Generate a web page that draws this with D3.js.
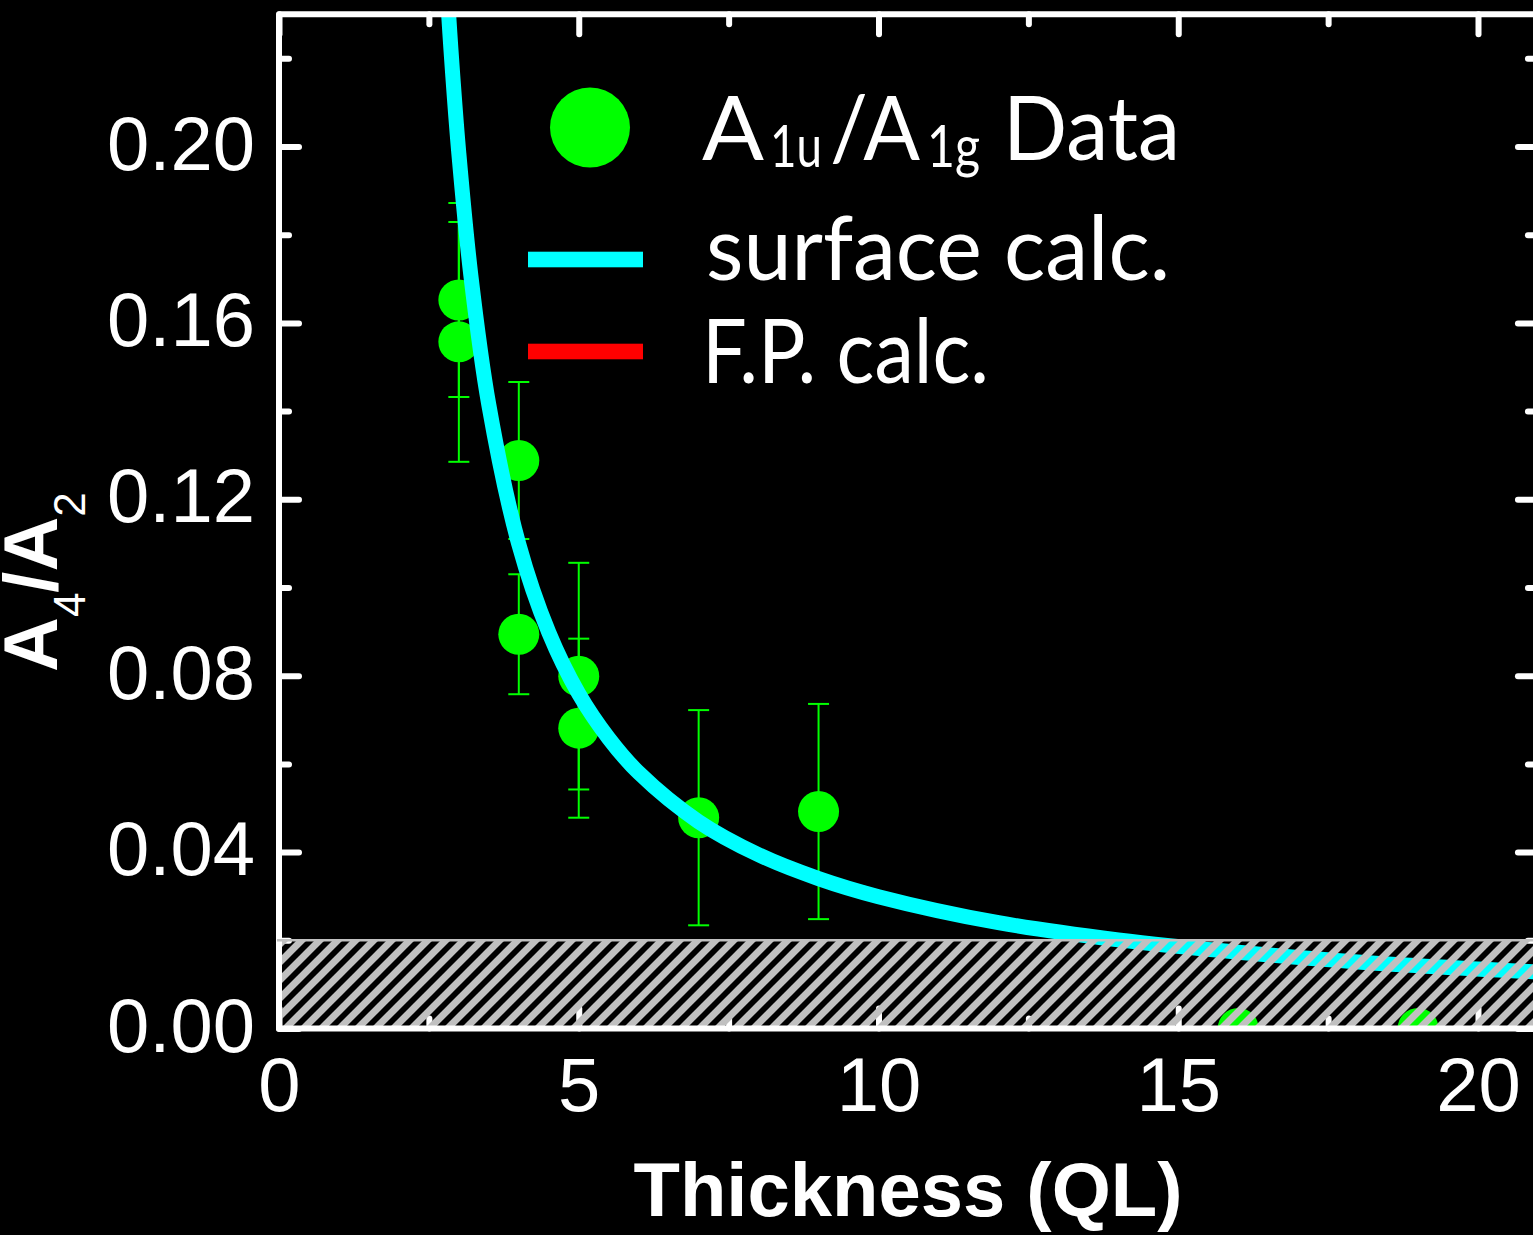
<!DOCTYPE html>
<html><head><meta charset="utf-8">
<script src="https://cdn.jsdelivr.net/npm/d3@7"></script>
<style>html,body{margin:0;padding:0;background:#000;overflow:hidden}</style>
</head><body>
<svg id="c" width="1533" height="1235"></svg>
<script>
// ---- data ----
const dataX   = [3, 3, 4, 4, 5, 5, 7, 9, 16, 19];
const dataY   = [0.1652, 0.1557, 0.1288, 0.0894, 0.0799, 0.0681, 0.0478, 0.0492, 0.0, 0.0];
const dataErr = [0.0220, 0.0272, 0.0178, 0.0136, 0.0257, 0.0203, 0.0244, 0.0244, 0, 0];

const curveX = [2.8, 2.85, 2.9, 3.0, 3.2, 3.5, 4.0, 4.5, 5.0, 5.5, 6.0, 7.0, 8.0, 9.0, 10.0, 12.0, 14.0, 16.0, 18.0, 21.0];
const curveY = [0.2365, 0.2257, 0.2158, 0.1984, 0.1708, 0.1414, 0.1098, 0.0898, 0.0759, 0.0658, 0.0580, 0.0469, 0.0394, 0.0340, 0.0299, 0.0240, 0.0201, 0.0173, 0.0151, 0.0128];

const detectionLimit = 0.02;

const xMajor = [0, 5, 10, 15, 20];
const xMinor = [2.5, 7.5, 12.5, 17.5];
const yMajor = [0, 0.04, 0.08, 0.12, 0.16, 0.20];
const yMinor = [0.02, 0.06, 0.10, 0.14, 0.18, 0.22];

const legendLabels = ["Data", "surface calc.", "F.P. calc."];

// ---- scales ----
const x = d3.scaleLinear().domain([0, 21]).range([279, 279 + 21 * 59.95]);
const y = d3.scaleLinear().domain([0, 0.23]).range([1028.5, 14.2]);

const svg = d3.select("#c");
svg.append("rect").attr("width", 1533).attr("height", 1235).attr("fill", "#000");

const defs = svg.append("defs");
defs.append("clipPath").attr("id", "plot").append("rect")
  .attr("x", x(0)).attr("y", y(0.23))
  .attr("width", x(21) - x(0)).attr("height", y(0) - y(0.23));
const pat = defs.append("pattern").attr("id", "hatch")
  .attr("patternUnits", "userSpaceOnUse").attr("width", 18).attr("height", 18);
pat.append("path").attr("d", "M-4.5,4.5 L4.5,-4.5 M0,18 L18,0 M13.5,22.5 L22.5,13.5")
  .attr("stroke", "#c0c0c0").attr("stroke-width", 7);

// ---- axes (inward ticks) ----
const FONT = "'Liberation Sans', Arial, sans-serif";
function style(g) {
  g.select(".domain").remove();
  g.selectAll(".tick line").attr("stroke", "#fff").attr("stroke-width", 6).attr("stroke-linecap", "round");
  g.selectAll(".tick text").attr("fill", "#fff").attr("font-family", FONT).attr("font-size", 76);
}
const axes = svg.append("g");
// bottom
axes.append("g").attr("transform", `translate(0,${y(0)})`)
  .call(d3.axisBottom(x).tickValues(xMajor).tickSize(-20).tickFormat(d3.format("d")))
  .call(style).call(g => g.selectAll(".tick text").attr("y", 82.5).attr("dy", null));
axes.append("g").attr("transform", `translate(0,${y(0)})`)
  .call(d3.axisBottom(x).tickValues(xMinor).tickSize(-10).tickFormat(() => "")).call(style);
// top
axes.append("g").attr("transform", `translate(0,${y(0.23)})`)
  .call(d3.axisTop(x).tickValues(xMajor).tickSize(-20).tickFormat(() => "")).call(style);
axes.append("g").attr("transform", `translate(0,${y(0.23)})`)
  .call(d3.axisTop(x).tickValues(xMinor).tickSize(-10).tickFormat(() => "")).call(style);
// left
axes.append("g").attr("transform", `translate(${x(0)},0)`)
  .call(d3.axisLeft(y).tickValues(yMajor).tickSize(-20).tickFormat(d3.format(".2f")))
  .call(style).call(g => g.selectAll(".tick text").attr("x", -24).attr("y", 22.5).attr("dy", null));
axes.append("g").attr("transform", `translate(${x(0)},0)`)
  .call(d3.axisLeft(y).tickValues(yMinor).tickSize(-10).tickFormat(() => "")).call(style);
// right
axes.append("g").attr("transform", `translate(${x(21)},0)`)
  .call(d3.axisRight(y).tickValues(yMajor).tickSize(-20).tickFormat(() => "")).call(style);
axes.append("g").attr("transform", `translate(${x(21)},0)`)
  .call(d3.axisRight(y).tickValues(yMinor).tickSize(-10).tickFormat(() => "")).call(style);

// ---- data ----
const plot = svg.append("g").attr("clip-path", "url(#plot)");
const pts = dataX.map((d, i) => ({x: d, y: dataY[i], e: dataErr[i]}));
const eb = plot.append("g").attr("stroke", "#00ff00").attr("stroke-width", 2);
pts.filter(p => p.e > 0).forEach(p => {
  eb.append("line").attr("x1", x(p.x)).attr("x2", x(p.x)).attr("y1", y(p.y - p.e)).attr("y2", y(p.y + p.e));
  eb.append("line").attr("x1", x(p.x) - 10.5).attr("x2", x(p.x) + 10.5).attr("y1", y(p.y + p.e)).attr("y2", y(p.y + p.e));
  eb.append("line").attr("x1", x(p.x) - 10.5).attr("x2", x(p.x) + 10.5).attr("y1", y(p.y - p.e)).attr("y2", y(p.y - p.e));
});
plot.append("g").selectAll("circle").data(pts).join("circle")
  .attr("cx", d => x(d.x)).attr("cy", d => y(d.y)).attr("r", 20.5).attr("fill", "#00ff00");

const line = d3.line().x(d => x(d[0])).y(d => y(d[1])).curve(d3.curveCatmullRom.alpha(0.5));
plot.append("path").datum(curveX.map((d, i) => [d, curveY[i]]))
  .attr("d", line).attr("fill", "none").attr("stroke", "#00ffff").attr("stroke-width", 15);

// ---- hatched region ----
svg.append("rect").attr("x", x(0) + 3).attr("y", y(detectionLimit))
  .attr("width", x(21) - x(0)).attr("height", y(0) - y(detectionLimit) - 1.5)
  .attr("fill", "url(#hatch)");

// ---- frame ----
svg.append("rect").attr("x", x(0)).attr("y", y(0.23))
  .attr("width", x(21) - x(0)).attr("height", y(0) - y(0.23))
  .attr("fill", "none").attr("stroke", "#fff").attr("stroke-width", 6).attr("stroke-linejoin", "round");
svg.append("line").attr("x1", x(0) - 2).attr("x2", x(21)).attr("y1", y(detectionLimit)).attr("y2", y(detectionLimit))
  .attr("stroke", "#c0c0c0").attr("stroke-width", 2.5);

// ---- axis titles ----
svg.append("text").attr("x", 908).attr("y", 1216).attr("text-anchor", "middle")
  .attr("fill", "#fff").attr("font-family", FONT).attr("font-weight", "bold").attr("font-size", 76)
  .text("Thickness (QL)");
const yt = svg.append("text").attr("transform", "translate(57,672) rotate(-90)")
  .attr("fill", "#fff").attr("font-family", FONT).attr("font-weight", "bold").attr("font-size", 76);
yt.append("tspan").text("A");
yt.append("tspan").attr("dy", 28).attr("font-size", 44).attr("font-weight", "normal").text("4");
yt.append("tspan").attr("dy", -28).text("/A");
yt.append("tspan").attr("dy", 28).attr("font-size", 44).attr("font-weight", "normal").text("2");

// ---- legend ----
const LF = "'Gill Sans', Lato, 'Open Sans', sans-serif";
const lg = svg.append("g").attr("fill", "#fff").attr("font-family", LF);
lg.append("circle").attr("cx", 590).attr("cy", 127.5).attr("r", 40).attr("fill", "#00ff00");
lg.append("rect").attr("x", 528).attr("y", 251.7).attr("width", 115).attr("height", 15.6).attr("fill", "#00ffff");
lg.append("rect").attr("x", 528).attr("y", 343.7).attr("width", 115).attr("height", 15.6).attr("fill", "#ff0000");
const t1 = lg.append("text").attr("y", 160).attr("font-size", 90);
t1.append("tspan").attr("x", 702).attr("textLength", 62).attr("lengthAdjust", "spacingAndGlyphs").text("A");
t1.append("tspan").attr("x", 770).attr("y", 167).attr("font-size", 58)
  .attr("textLength", 52).attr("lengthAdjust", "spacingAndGlyphs").text("1u");
t1.append("tspan").attr("x", 830).attr("y", 160)
  .attr("textLength", 90).attr("lengthAdjust", "spacingAndGlyphs").text("/A");
t1.append("tspan").attr("x", 927).attr("y", 167).attr("font-size", 58)
  .attr("textLength", 53).attr("lengthAdjust", "spacingAndGlyphs").text("1g");
t1.append("tspan").attr("x", 1003).attr("y", 160).attr("textLength", 177).attr("lengthAdjust", "spacingAndGlyphs").text(legendLabels[0]);
lg.append("text").attr("x", 706).attr("y", 280).attr("font-size", 90)
  .attr("textLength", 464).attr("lengthAdjust", "spacingAndGlyphs").text(legendLabels[1]);
lg.append("text").attr("x", 702).attr("y", 383).attr("font-size", 90)
  .attr("textLength", 287).attr("lengthAdjust", "spacingAndGlyphs").text(legendLabels[2]);
</script>
</body></html>
